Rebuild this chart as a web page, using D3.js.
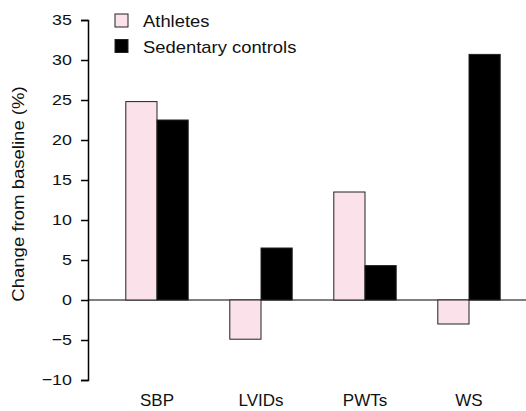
<!DOCTYPE html>
<html>
<head>
<meta charset="utf-8">
<script src="https://cdn.jsdelivr.net/npm/d3@7"></script>
<style>
  body { margin: 0; background: #fff; }
  svg { display: block; }
</style>
</head>
<body>
<div id="chart"></div>
<script>
// categories and series
const categories = ["SBP", "LVIDs", "PWTs", "WS"];
const athletes = [24.8, -4.9, 13.5, -3.0];
const controls = [22.5, 6.5, 4.3, 30.7];
const seriesNames = ["Athletes", "Sedentary controls"];
const yTicks = [-10, -5, 0, 5, 10, 15, 20, 25, 30, 35];

const seriesColors = {
  "Athletes": "#fbe1ea",
  "Sedentary controls": "#000000"
};

const width = 526;
const height = 411;
const font = "'Liberation Sans', Arial, Helvetica, sans-serif";
// the original lettering is a little wider than Arial
const stretch = 1.15;

const svg = d3.select("#chart").append("svg")
  .attr("width", width)
  .attr("height", height)
  .style("font-family", font);

const y = d3.scaleLinear()
  .domain([-10, 35])
  .range([380, 20]);

const x0 = d3.scaleBand()
  .domain(categories)
  .range([105, 521])
  .paddingInner(0.4)
  .paddingOuter(0.2);

const x1 = d3.scaleBand()
  .domain(seriesNames)
  .range([0, x0.bandwidth()]);

const axisX = 88;

// rows for bars
const rows = [];
categories.forEach((c, i) => {
  rows.push({ cat: c, series: "Athletes", value: athletes[i] });
  rows.push({ cat: c, series: "Sedentary controls", value: controls[i] });
});

// zero line across the plot
svg.append("line")
  .attr("x1", axisX)
  .attr("x2", width)
  .attr("y1", y(0))
  .attr("y2", y(0))
  .attr("stroke", "#000")
  .attr("stroke-width", 1.2);

// bars
svg.selectAll(".bar")
  .data(rows)
  .enter()
  .append("rect")
  .attr("class", "bar")
  .attr("x", d => x0(d.cat) + x1(d.series))
  .attr("y", d => y(Math.max(0, d.value)))
  .attr("width", x1.bandwidth())
  .attr("height", d => Math.abs(y(d.value) - y(0)))
  .attr("fill", d => seriesColors[d.series])
  .attr("stroke", "#222")
  .attr("stroke-width", 1);

// y axis
const yAxis = svg.append("g")
  .attr("transform", `translate(${axisX},0)`)
  .call(d3.axisLeft(y).tickValues(yTicks).tickSize(7).tickPadding(7));

yAxis.select(".domain").attr("stroke-width", 1.5);
yAxis.selectAll(".tick line").attr("stroke-width", 1.5);
yAxis.selectAll("text")
  .style("font-family", font)
  .style("font-size", "15.5px")
  .attr("fill", "#111")
  .attr("transform", `scale(${stretch},1)`);

// category labels
svg.selectAll(".cat-label")
  .data(categories)
  .enter()
  .append("text")
  .attr("class", "cat-label")
  .attr("x", d => x0(d) + x0.bandwidth() / 2)
  .attr("y", 406)
  .attr("text-anchor", "middle")
  .style("font-size", "17px")
  .attr("fill", "#111")
  .text(d => d);

// y axis title
svg.append("text")
  .attr("transform", `translate(24,194) rotate(-90) scale(1.16,1)`)
  .attr("text-anchor", "middle")
  .style("font-size", "16px")
  .attr("fill", "#111")
  .text("Change from baseline (%)");

// legend
const legend = svg.append("g")
  .attr("transform", "translate(115,14)");

seriesNames.forEach((name, i) => {
  const yOffset = i * 25.5;
  legend.append("rect")
    .attr("x", 0)
    .attr("y", yOffset)
    .attr("width", 13)
    .attr("height", 13)
    .attr("fill", seriesColors[name])
    .attr("stroke", "#222")
    .attr("stroke-width", 1);
  legend.append("text")
    .attr("transform", `translate(28,${yOffset + 13}) scale(${stretch},1)`)
    .style("font-size", "16px")
    .attr("fill", "#111")
    .text(name);
});
</script>
</body>
</html>
